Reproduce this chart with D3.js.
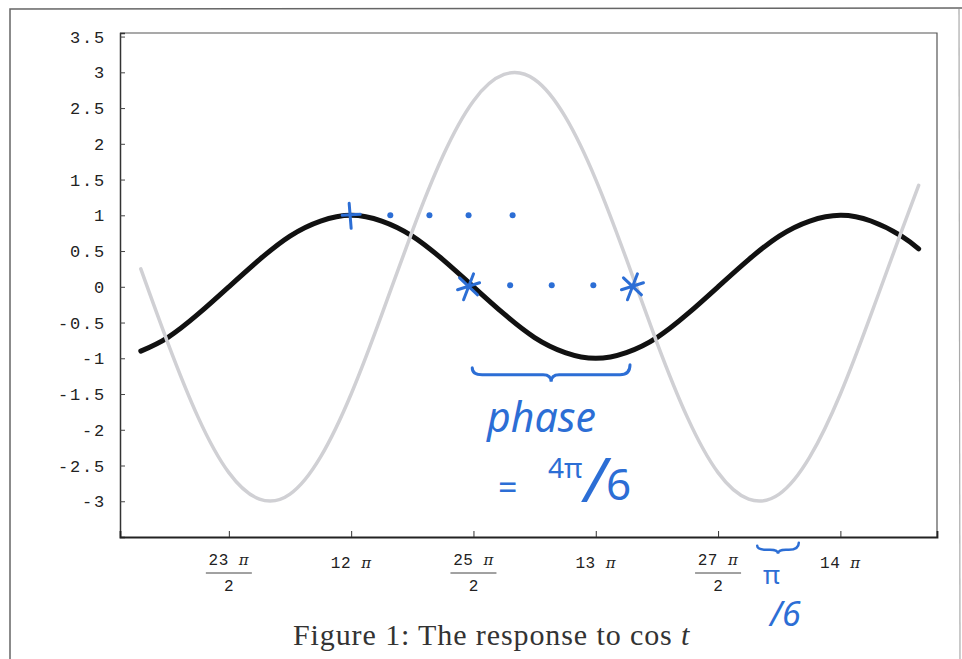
<!DOCTYPE html>
<html>
<head>
<meta charset="utf-8">
<script src="https://cdn.jsdelivr.net/npm/d3@7"></script>
<style>
    html, body { margin: 0; padding: 0; background: #fff; }
    svg { display: block; }
    .tick-label { font-family: "Liberation Mono", "DejaVu Sans Mono", monospace; fill: #222; }
    .caption { font-family: "Liberation Serif", "DejaVu Serif", serif; fill: #333; }
    .note { font-family: "Noto Sans", "DejaVu Sans", sans-serif; fill: #2c6ed5; }
</style>
</head>
<body>
<script>
'use strict';

// t values are in units of pi
const tValues = [11.14, 11.25, 11.375, 11.5, 11.625, 11.75, 11.875, 12, 12.125, 12.25, 12.375, 12.5, 12.625,
    12.75, 12.875, 13, 13.125, 13.25, 13.375, 13.5, 13.625, 13.75, 13.875, 14, 14.125, 14.25, 14.32];

// black curve (the input, cos t)
const inputValues = [-0.90, -0.71, -0.38, 0, 0.38, 0.71, 0.92, 1, 0.92, 0.71, 0.38, 0, -0.38,
    -0.71, -0.92, -1, -0.92, -0.71, -0.38, 0, 0.38, 0.71, 0.92, 1, 0.92, 0.71, 0.53];

// light grey curve (the response)
const responseValues = [0.25, -0.78, -1.83, -2.60, -2.97, -2.90, -2.38, -1.50, -0.39, 0.78, 1.83, 2.60, 2.97,
    2.90, 2.38, 1.50, 0.39, -0.78, -1.83, -2.60, -2.97, -2.90, -2.38, -1.50, -0.39, 0.78, 1.42];

const yTicks = [-3, -2.5, -2, -1.5, -1, -0.5, 0, 0.5, 1, 1.5, 2, 2.5, 3, 3.5];
const xTicks = [11.5, 12, 12.5, 13, 13.5, 14];
const xTickNumerators = ['23', '12', '25', '13', '27', '14'];
const xTickDenominators = ['2', '', '2', '', '2', ''];

// handwritten marks (t in units of pi)
const plusMarks = [{ t: 12, v: 1 }];
const topDots = [12.16, 12.32, 12.48, 12.66];
const starMarks = [12.48, 13.15];
const middleDots = [12.65, 12.82, 12.99];
const phaseBrace = [12.495, 13.14];
const smallBrace = [13.66, 13.83];

const captionText = 'Figure 1: The response to cos ';


function getPlotArea() {
    return {
        svg: { width: 962, height: 659 },
        frame: { left: 120, right: 937, top: 33, bottom: 537 }
    };
}


function makeScales(plot) {
    return {
        x: d3.scaleLinear()
            .domain([11.055, 14.395])
            .range([plot.frame.left, plot.frame.right]),
        y: d3.scaleLinear()
            .domain([-3.5, 3.55])
            .range([plot.frame.bottom, plot.frame.top])
    };
}


/**
 * The scanned page edges round the figure.
 */
function appendPageEdges(svg) {
    svg.append('path')
        .attr('d', 'M 10,659 L 10,9 L 962,8')
        .attr('fill', 'none')
        .attr('stroke', '#666')
        .attr('stroke-width', 1.5);
    svg.append('line')
        .attr('x1', 959).attr('x2', 960)
        .attr('y1', 9).attr('y2', 659)
        .attr('stroke', '#aaa')
        .attr('stroke-width', 1.2);
}


function appendFrame(svg, plot, scales) {
    const f = plot.frame;
    svg.append('path')
        .attr('d', 'M ' + f.left + ',' + f.top + ' L ' + f.right + ',' + f.top + ' L ' + f.right + ',' + f.bottom)
        .attr('fill', 'none')
        .attr('stroke', '#555')
        .attr('stroke-width', 1.2);

    const yAxis = svg.append('g')
        .attr('transform', 'translate(' + f.left + ',0)')
        .call(d3.axisLeft(scales.y).tickValues(yTicks).tickSize(-5).tickFormat(''));
    yAxis.select('.domain').attr('stroke', '#333').attr('stroke-width', 1.5);
    yAxis.selectAll('.tick line').attr('stroke', '#444');

    const xAxis = svg.append('g')
        .attr('transform', 'translate(0,' + f.bottom + ')')
        .call(d3.axisBottom(scales.x).tickValues(xTicks).tickSize(-6).tickFormat(''));
    xAxis.select('.domain').attr('stroke', '#222').attr('stroke-width', 1.8);
    xAxis.selectAll('.tick line').attr('stroke', '#333');

    svg.append('g').selectAll('text')
        .data(yTicks)
        .join('text')
        .attr('class', 'tick-label')
        .attr('x', 106)
        .attr('y', d => scales.y(d) + 6)
        .attr('text-anchor', 'end')
        .attr('font-size', 17)
        .attr('letter-spacing', 1.8)
        .text(d => String(d));

    const labels = svg.append('g').selectAll('g')
        .data(xTicks)
        .join('g')
        .attr('transform', d => 'translate(' + scales.x(d) + ',0)');
    labels.each(function (d, i) {
        const g = d3.select(this);
        const isFraction = xTickDenominators[i] !== '';
        const top = g.append('text')
            .attr('class', 'tick-label')
            .attr('text-anchor', 'middle')
            .attr('font-size', 16)
            .attr('letter-spacing', 0.5)
            .attr('y', isFraction ? 565 : 568);
        top.append('tspan').text(xTickNumerators[i] + ' ');
        top.append('tspan').attr('font-style', 'italic').attr('font-family', 'DejaVu Serif').attr('font-size', 15).text('π');
        if (isFraction) {
            g.append('line')
                .attr('x1', -23).attr('x2', 23)
                .attr('y1', 573).attr('y2', 573)
                .attr('stroke', '#444')
                .attr('stroke-width', 1);
            g.append('text')
                .attr('class', 'tick-label')
                .attr('text-anchor', 'middle')
                .attr('font-size', 16)
                .attr('y', 591)
                .text(xTickDenominators[i]);
        }
    });
}


function appendCurves(svg, scales) {
    const line = d3.line()
        .x((d, i) => scales.x(tValues[i]))
        .y(d => scales.y(d))
        .curve(d3.curveNatural);
    svg.append('path')
        .attr('d', line(inputValues))
        .attr('fill', 'none')
        .attr('stroke', '#111')
        .attr('stroke-width', 5)
        .attr('stroke-linecap', 'round');
    svg.append('path')
        .attr('d', line(responseValues))
        .attr('fill', 'none')
        .attr('stroke', '#d0d0d4')
        .attr('stroke-width', 3.5)
        .attr('stroke-linecap', 'round');
}


/**
 * A curly brace drawn from x0 to x1, opening upwards at height y, tip pointing down by depth.
 */
function bracePath(x0, x1, y, depth) {
    const mid = (x0 + x1) / 2;
    const h = depth / 2;
    return 'M ' + x0 + ',' + (y - h) +
        ' Q ' + x0 + ',' + y + ' ' + (x0 + 10) + ',' + y +
        ' L ' + (mid - 8) + ',' + y +
        ' Q ' + mid + ',' + y + ' ' + mid + ',' + (y + h) +
        ' Q ' + mid + ',' + y + ' ' + (mid + 8) + ',' + y +
        ' L ' + (x1 - 10) + ',' + y +
        ' Q ' + x1 + ',' + y + ' ' + x1 + ',' + (y - h - 3);
}


function appendNotes(svg, scales) {
    const blue = '#2c6ed5';
    const notes = svg.append('g')
        .attr('stroke', blue)
        .attr('fill', blue)
        .attr('stroke-linecap', 'round');

    plusMarks.forEach(m => {
        const cx = scales.x(m.t), cy = scales.y(m.v);
        notes.append('path')
            .attr('d', 'M ' + (cx - 2) + ',' + (cy - 12) + ' L ' + cx + ',' + (cy + 13) +
                ' M ' + (cx - 9) + ',' + cy + ' L ' + (cx + 9) + ',' + (cy - 1))
            .attr('stroke-width', 3)
            .attr('fill', 'none');
    });

    notes.selectAll('circle.top')
        .data(topDots)
        .join('circle')
        .attr('cx', d => scales.x(d))
        .attr('cy', scales.y(1))
        .attr('r', 3)
        .attr('stroke', 'none');

    notes.selectAll('circle.mid')
        .data(middleDots)
        .join('circle')
        .attr('cx', d => scales.x(d))
        .attr('cy', scales.y(0.02))
        .attr('r', 3)
        .attr('stroke', 'none');

    starMarks.forEach(t => {
        const cx = scales.x(t), cy = scales.y(0);
        notes.append('path')
            .attr('d', 'M ' + (cx + 5) + ',' + (cy - 13) + ' L ' + (cx - 5) + ',' + (cy + 13) +
                ' M ' + (cx - 9) + ',' + (cy - 9) + ' L ' + (cx + 9) + ',' + (cy + 8) +
                ' M ' + (cx - 11) + ',' + (cy + 3) + ' L ' + (cx + 11) + ',' + (cy - 4))
            .attr('stroke-width', 3)
            .attr('fill', 'none');
    });

    notes.append('path')
        .attr('d', bracePath(scales.x(phaseBrace[0]), scales.x(phaseBrace[1]), scales.y(-1.23), 14))
        .attr('stroke-width', 3)
        .attr('fill', 'none');

    notes.append('path')
        .attr('d', bracePath(scales.x(smallBrace[0]), scales.x(smallBrace[1]), scales.y(-3.68), 8))
        .attr('stroke-width', 2.5)
        .attr('fill', 'none');

    const write = (x, y, size, str, italic) => svg.append('text')
        .attr('class', 'note')
        .attr('x', x)
        .attr('y', y)
        .attr('font-size', size)
        .attr('font-style', italic ? 'italic' : 'normal')
        .text(str);
    write(487, 432, 41, 'phase', true);
    write(498, 500, 34, '=', false);
    write(548, 478, 28, '4π', false);
    write(584, 502, 62, '/', true);
    write(606, 500, 44, '6', false);
    write(763, 584, 26, 'π', false);
    write(770, 626, 34, '/6', true);
}


function appendCaption(svg) {
    const caption = svg.append('text')
        .attr('class', 'caption')
        .attr('x', 293)
        .attr('y', 645)
        .attr('font-size', 30)
        .attr('letter-spacing', 0.9);
    caption.append('tspan').text(captionText);
    caption.append('tspan').attr('font-style', 'italic').text('t');
}


function draw() {
    const plot = getPlotArea();
    const svg = d3.select('body').append('svg')
        .attr('width', plot.svg.width)
        .attr('height', plot.svg.height);
    svg.append('rect')
        .attr('width', plot.svg.width)
        .attr('height', plot.svg.height)
        .attr('fill', '#fff');
    const scales = makeScales(plot);
    appendPageEdges(svg);
    appendFrame(svg, plot, scales);
    appendCurves(svg, scales);
    appendNotes(svg, scales);
    appendCaption(svg);
}


window.onload = draw;
</script>
</body>
</html>
